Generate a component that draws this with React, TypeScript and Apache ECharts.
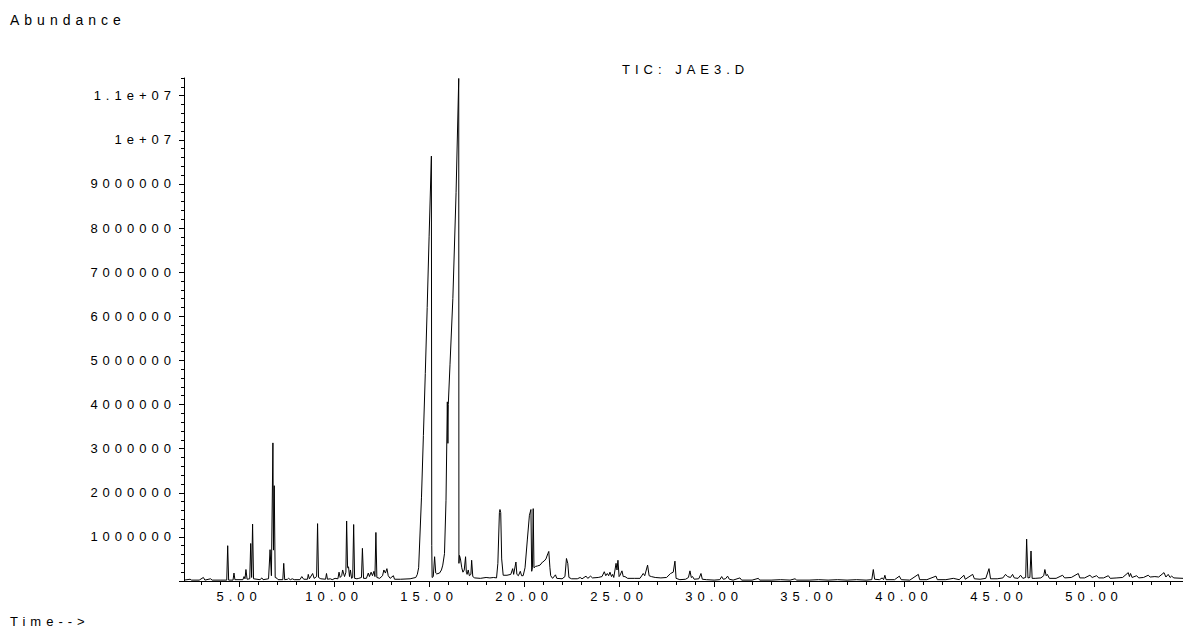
import React, { useEffect, useRef } from "react";
import * as echarts from "echarts";

// Retention time (min) and abundance (millions of counts)
const earlyTrace: [number, number][] = [
  [2.1, 0.02], [2.42, 0.04], [2.5, 0.02], [2.9, 0.02], [3.12, 0.08], [3.2, 0.02], [3.5, 0.05], [3.58, 0.02],
  [4.0, 0.02], [4.35, 0.02], [4.4, 0.8], [4.45, 0.02], [4.68, 0.02], [4.73, 0.18], [4.78, 0.03],
  [5.2, 0.03], [5.26, 0.1], [5.31, 0.05], [5.36, 0.26], [5.42, 0.04], [5.56, 0.05], [5.61, 0.85],
  [5.66, 0.08], [5.71, 1.29], [5.76, 0.05], [6.1, 0.03], [6.2, 0.07], [6.26, 0.03], [6.55, 0.05],
  [6.63, 0.71], [6.7, 0.12], [6.78, 3.13], [6.81, 0.7], [6.85, 2.16], [6.9, 0.08], [7.0, 0.06],
  [7.05, 0.03], [7.3, 0.03], [7.35, 0.4], [7.4, 0.03], [7.55, 0.04], [7.6, 0.06], [7.7, 0.03],
  [7.8, 0.05], [7.9, 0.03], [8.2, 0.03], [8.3, 0.1], [8.4, 0.04], [8.6, 0.04], [8.64, 0.15],
  [8.7, 0.05], [8.87, 0.17], [8.95, 0.06], [9.08, 0.1], [9.13, 1.3], [9.18, 0.08], [9.3, 0.05],
  [9.55, 0.04], [9.6, 0.17], [9.65, 0.04], [9.8, 0.05], [9.9, 0.03], [10.05, 0.06], [10.2, 0.05],
  [10.26, 0.2], [10.32, 0.08], [10.4, 0.12], [10.45, 0.25], [10.55, 0.1], [10.62, 0.2], [10.66, 1.36],
  [10.71, 0.3], [10.76, 0.32], [10.81, 0.1], [10.86, 0.25], [10.92, 0.06], [10.98, 0.08], [11.03, 1.28],
  [11.08, 0.06], [11.2, 0.05], [11.3, 0.06], [11.44, 0.08], [11.49, 0.74], [11.55, 0.06], [11.7, 0.06],
  [11.8, 0.18], [11.86, 0.1], [11.95, 0.2], [12.02, 0.12], [12.1, 0.22], [12.15, 0.1], [12.2, 1.1],
  [12.25, 0.08], [12.4, 0.06], [12.55, 0.12], [12.62, 0.25], [12.7, 0.18], [12.78, 0.28], [12.85, 0.12],
  [12.95, 0.06], [13.12, 0.12], [13.18, 0.04], [13.5, 0.04], [14.0, 0.05],
];

const mainPeaksTrace: [number, number][] = [
  [14.3, 0.08], [14.38, 0.15], [14.45, 0.3], [14.6, 1.9], [14.7, 3.3], [14.8, 4.7], [14.9, 6.2],
  [15.0, 7.8], [15.12, 9.63], [15.14, 0.8], [15.16, 0.08], [15.22, 0.1], [15.29, 0.55], [15.35, 0.18],
  [15.4, 0.16], [15.55, 0.18], [15.65, 0.25], [15.72, 0.36], [15.81, 0.62], [15.89, 1.83], [15.96, 4.06],
  [15.99, 3.12], [16.01, 4.0], [16.1, 4.9], [16.25, 6.4], [16.42, 8.8], [16.56, 11.39], [16.57, 0.4],
  [16.6, 0.58], [16.65, 0.5], [16.72, 0.3], [16.78, 0.2], [16.85, 0.25], [16.92, 0.55], [16.96, 0.2],
  [17.0, 0.15], [17.06, 0.25], [17.12, 0.12], [17.2, 0.15], [17.24, 0.47], [17.3, 0.1], [17.4, 0.07],
  [17.7, 0.06], [18.0, 0.08], [18.2, 0.07], [18.4, 0.08], [18.55, 0.07], [18.62, 0.4], [18.7, 1.55],
  [18.73, 1.62], [18.77, 1.55], [18.82, 0.5], [18.9, 0.13], [19.1, 0.13], [19.3, 0.15], [19.4, 0.28],
  [19.45, 0.15], [19.57, 0.43], [19.62, 0.15], [19.7, 0.12], [19.8, 0.22], [19.87, 0.12], [19.95, 0.12],
  [20.05, 0.3], [20.17, 0.93], [20.28, 1.49], [20.36, 1.62], [20.4, 0.22], [20.44, 0.3], [20.48, 1.64],
  [20.52, 0.3], [20.6, 0.33], [20.7, 0.34], [20.84, 0.36], [20.97, 0.43], [21.05, 0.45], [21.15, 0.5],
  [21.25, 0.62], [21.3, 0.67], [21.36, 0.3], [21.4, 0.12],
];

const midTrace: [number, number][] = [
  [21.5, 0.06], [21.65, 0.14], [21.72, 0.06], [22.0, 0.05], [22.15, 0.1], [22.23, 0.51], [22.3, 0.4],
  [22.36, 0.08], [22.5, 0.05], [22.8, 0.05], [22.95, 0.08], [23.05, 0.05], [23.26, 0.11], [23.35, 0.06],
  [23.5, 0.11], [23.6, 0.07], [23.9, 0.08], [24.1, 0.1], [24.22, 0.21], [24.3, 0.12], [24.38, 0.17],
  [24.45, 0.12], [24.52, 0.2], [24.6, 0.1], [24.66, 0.15], [24.72, 0.08], [24.84, 0.4], [24.89, 0.25],
  [24.94, 0.47], [25.0, 0.1], [25.05, 0.13], [25.15, 0.23], [25.22, 0.1], [25.31, 0.1], [25.45, 0.06],
  [25.8, 0.06], [26.1, 0.06], [26.27, 0.17], [26.35, 0.12], [26.5, 0.36], [26.58, 0.12], [26.7, 0.1],
  [26.9, 0.08], [27.2, 0.07], [27.5, 0.08], [27.71, 0.17], [27.85, 0.2], [27.94, 0.45], [28.0, 0.06],
  [28.2, 0.03], [28.5, 0.04], [28.65, 0.08], [28.73, 0.23], [28.8, 0.08], [28.87, 0.1], [28.95, 0.04],
  [29.2, 0.05], [29.31, 0.17], [29.38, 0.04], [29.6, 0.03], [30.0, 0.02], [30.3, 0.03], [30.4, 0.1],
  [30.48, 0.04], [30.6, 0.05], [30.71, 0.11], [30.8, 0.04], [31.0, 0.02], [31.36, 0.07], [31.45, 0.02],
  [32.0, 0.02], [32.33, 0.06], [32.4, 0.02], [33.0, 0.02], [33.5, 0.03], [34.0, 0.02], [34.26, 0.05],
  [34.35, 0.02], [35.0, 0.02], [35.5, 0.03], [36.0, 0.02], [36.5, 0.03], [37.0, 0.02], [37.5, 0.03],
];

const lateTrace: [number, number][] = [
  [38.0, 0.02], [38.3, 0.03], [38.38, 0.26], [38.45, 0.04], [38.7, 0.03], [38.85, 0.07], [38.92, 0.03],
  [38.99, 0.13], [39.05, 0.03], [39.5, 0.03], [39.75, 0.11], [39.85, 0.03], [40.3, 0.02], [40.75, 0.15],
  [40.82, 0.03], [41.2, 0.03], [41.68, 0.11], [41.75, 0.03], [42.2, 0.03], [42.59, 0.06], [42.9, 0.03],
  [43.15, 0.13], [43.22, 0.04], [43.61, 0.15], [43.7, 0.05], [44.0, 0.04], [44.3, 0.06], [44.47, 0.28],
  [44.55, 0.05], [44.9, 0.05], [45.2, 0.07], [45.34, 0.15], [45.45, 0.1], [45.6, 0.08], [45.71, 0.15],
  [45.8, 0.07], [46.0, 0.06], [46.13, 0.13], [46.25, 0.06], [46.4, 0.08], [46.45, 0.95], [46.52, 0.07],
  [46.62, 0.08], [46.68, 0.68], [46.74, 0.06], [46.9, 0.06], [47.2, 0.07], [47.35, 0.12], [47.41, 0.26],
  [47.48, 0.12], [47.54, 0.15], [47.65, 0.06], [48.0, 0.06], [48.34, 0.13], [48.45, 0.07], [48.8, 0.08],
  [49.17, 0.17], [49.25, 0.07], [49.5, 0.07], [49.78, 0.13], [49.9, 0.08], [50.13, 0.12], [50.25, 0.07],
  [50.5, 0.07], [50.75, 0.12], [50.85, 0.06], [51.2, 0.07], [51.5, 0.08], [51.8, 0.19], [51.86, 0.1],
  [51.92, 0.17], [52.0, 0.08], [52.24, 0.12], [52.35, 0.07], [52.6, 0.08], [52.85, 0.13], [52.95, 0.09],
  [53.2, 0.1], [53.4, 0.09], [53.68, 0.19], [53.78, 0.09], [53.9, 0.15], [54.0, 0.08], [54.08, 0.11],
  [54.2, 0.07], [54.68, 0.06],
];

const xMajorTicks = [5, 10, 15, 20, 25, 30, 35, 40, 45, 50];
const yMajorTicks = [0, 1e6, 2e6, 3e6, 4e6, 5e6, 6e6, 7e6, 8e6, 9e6, 1e7, 1.1e7];

const X_MIN = 2.1;
const X_MAX = 54.68;
const Y_MAX = 11.4e6;
const MILLION = 1e6;

const FONT = '"Liberation Sans", Arial, sans-serif';

function fmtY(v: number): string {
  if (v === 0) return "";
  if (v >= 1e7) {
    const m = Math.round((v / 1e7) * 10) / 10;
    return `${m}e+07`;
  }
  return String(Math.round(v));
}

export default function App() {
  const ref = useRef<HTMLDivElement>(null);
  useEffect(() => {
    if (!ref.current) return;
    const chart = echarts.init(ref.current, undefined, { renderer: "svg" });
    const data = [...earlyTrace, ...mainPeaksTrace, ...midTrace, ...lateTrace].map(
      ([t, v]) => [t, v * MILLION]
    );
    const xMinor: number[] = [];
    for (let t = 3; t <= 54; t++) xMinor.push(t);
    const yMinor: number[] = [];
    for (let i = 0; i <= 57; i++) yMinor.push(Math.round(i * 0.2e6));

    chart.setOption({
      animation: false,
      backgroundColor: "#fff",
      textStyle: { fontFamily: FONT },
      grid: { left: 184, right: 0, top: 78, bottom: 48, containLabel: false },
      xAxis: [
        {
          type: "value",
          position: "bottom",
          min: X_MIN,
          max: X_MAX,
          axisLine: { show: true, lineStyle: { color: "#000", width: 1 } },
          axisTick: { show: true, customValues: xMajorTicks, length: 6, lineStyle: { color: "#000" } },
          axisLabel: {
            show: true,
            customValues: xMajorTicks,
            formatter: (v: number) => v.toFixed(2),
            color: "#000",
            fontSize: 13,
            fontFamily: FONT,
            margin: 9,
          },
          splitLine: { show: false },
        },
        {
          type: "value",
          position: "bottom",
          min: X_MIN,
          max: X_MAX,
          axisLine: { show: false },
          axisTick: { show: true, customValues: xMinor, length: 4, lineStyle: { color: "#000" } },
          axisLabel: { show: false },
          splitLine: { show: false },
        },
      ],
      yAxis: [
        {
          type: "value",
          position: "left",
          min: 0,
          max: Y_MAX,
          axisLine: { show: true, lineStyle: { color: "#000", width: 1 } },
          axisTick: { show: true, customValues: yMajorTicks, length: 5, lineStyle: { color: "#000" } },
          axisLabel: {
            show: true,
            customValues: yMajorTicks,
            formatter: fmtY,
            color: "#000",
            fontSize: 13,
            fontFamily: FONT,
            margin: 8,
          },
          splitLine: { show: false },
        },
        {
          type: "value",
          position: "left",
          min: 0,
          max: Y_MAX,
          axisLine: { show: false },
          axisTick: { show: true, customValues: yMinor, length: 3, lineStyle: { color: "#000" } },
          axisLabel: { show: false },
          splitLine: { show: false },
        },
      ],
      graphic: [
        {
          type: "text",
          x: 10,
          y: 20,
          style: { text: "Abundance", fill: "#000", font: `14px ${FONT}`, align: "left", verticalAlign: "middle" },
        },
        {
          type: "text",
          x: 622,
          y: 69,
          style: { text: "TIC: JAE3.D", fill: "#000", font: `13px ${FONT}`, align: "left", verticalAlign: "middle" },
        },
        {
          type: "text",
          x: 10,
          y: 621,
          style: { text: "Time-->", fill: "#000", font: `13px ${FONT}`, align: "left", verticalAlign: "middle" },
        },
      ],
      series: [
        {
          type: "line",
          xAxisIndex: 0,
          yAxisIndex: 0,
          data,
          showSymbol: false,
          symbol: "none",
          lineStyle: { color: "#000", width: 1 },
          silent: true,
        },
      ],
    });
    return () => chart.dispose();
  }, []);
  return (
    <div
      ref={ref}
      style={{
        position: "absolute",
        left: 0,
        top: 0,
        width: 1183,
        height: 629,
        letterSpacing: "5px",
        background: "#fff",
      }}
    />
  );
}
